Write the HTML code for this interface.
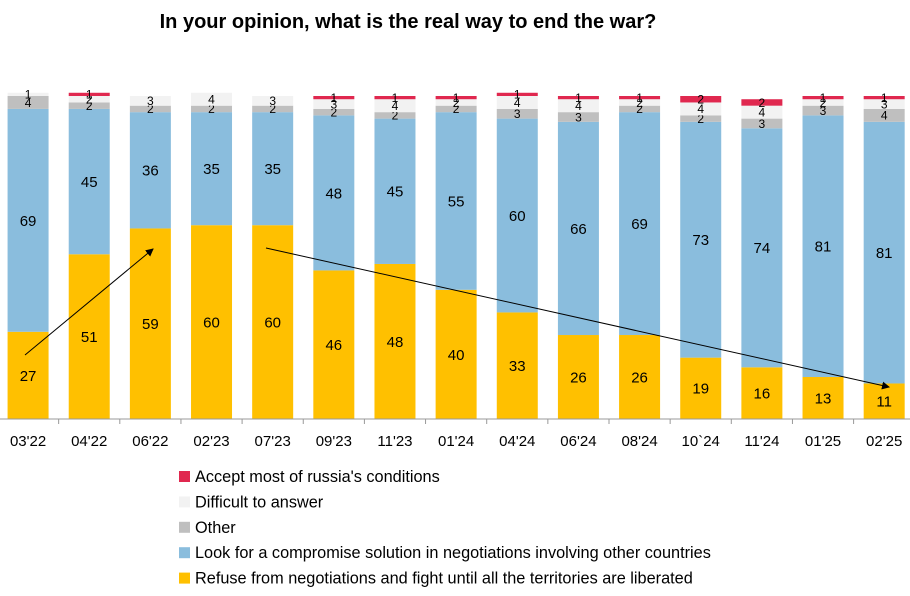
<!DOCTYPE html>
<html><head><meta charset="utf-8"><style>
body{margin:0;background:#fff;font-family:"Liberation Sans",sans-serif}
svg{display:block}
</style></head><body>
<svg id="chart" width="910" height="596">
<text x="408" y="28" text-anchor="middle" font-size="20" font-weight="bold" fill="#000">In your opinion, what is the real way to end the war?</text>
<g id="bars"></g>
<g id="axis"></g>
<g id="legend"></g>
<defs><marker id="ah" markerWidth="8" markerHeight="8" refX="7" refY="4" orient="auto"><path d="M0,0 L8,4 L0,8 z" fill="#000"/></marker></defs>
<g id="arrows"></g>
</svg>
<script>
const categories=["03'22","04'22","06'22","02'23","07'23","09'23","11'23","01'24","04'24","06'24","08'24","10`24","11'24","01'25","02'25"];
const refuse=[27,51,59,60,60,46,48,40,33,26,26,19,16,13,11];
const compromise=[69,45,36,35,35,48,45,55,60,66,69,73,74,81,81];
const other=[4,2,2,2,2,2,2,2,3,3,2,2,3,3,4];
const difficult=[1,2,3,4,3,3,4,2,4,4,2,4,4,2,3];
const accept=[0,1,0,0,0,1,1,1,1,1,1,2,2,1,1];
const seriesNames=["Accept most of russia's conditions","Difficult to answer","Other","Look for a compromise solution in negotiations involving other countries","Refuse from negotiations and fight until all the territories are liberated"];
const NS="http://www.w3.org/2000/svg";
const base=419, unit=3.23, band=61.15, x0=-2.5, bw=41;
const xc=i=>x0+band*i+band/2;
const yv=v=>base-v*unit;
function mk(t,a,p){const e=document.createElementNS(NS,t);for(const k in a)e.setAttribute(k,a[k]);p.appendChild(e);return e;}
const bars=document.getElementById('bars');
const stack=[[refuse,'#ffc000','refuse',15],[compromise,'#8abddd','compromise',15],[other,'#bfbfbf','other',12],[difficult,'#f2f2f2','difficult',12],[accept,'#e0284f','accept',12]];
categories.forEach((c,i)=>{
  let cum=0;
  stack.forEach(([arr,col,nm,fs])=>{
    const v=arr[i];
    if(v>0){
      const r=mk('rect',{x:xc(i)-bw/2,y:yv(cum+v),width:bw,height:v*unit,fill:col},bars);
      
      
      const t=mk('text',{x:xc(i),y:yv(cum+v/2)+fs*0.36,'text-anchor':'middle','font-size':fs,fill:'#000'},bars);
      t.textContent=v;
      
      
    }
    cum+=v;
  });
});
const ax=document.getElementById('axis');
const l=mk('line',{x1:0,x2:910,y1:base,y2:base,stroke:'#999'},ax);


categories.forEach((c,i)=>{
  const tk=mk('line',{x1:x0+band*(i+1),x2:x0+band*(i+1),y1:base,y2:base+5,stroke:'#999'},ax);
  
  
  const t=mk('text',{x:xc(i),y:446,'text-anchor':'middle','font-size':15,fill:'#000'},ax);
  t.textContent=c;
  
  
});
const lg=document.getElementById('legend');
const lcols=['#e0284f','#f2f2f2','#bfbfbf','#8abddd','#ffc000'];
seriesNames.forEach((n,k)=>{
  const y=477+k*25.4;
  const r=mk('rect',{x:179,y:y-6,width:11,height:11,fill:lcols[k]},lg);
  
  
  const t=mk('text',{x:195,y:y+5,'font-size':16.3,fill:'#000'},lg);
  t.textContent=n;
  
  
});
const ar=document.getElementById('arrows');
const a1=mk('line',{x1:25,y1:355,x2:153,y2:249,stroke:'#000','stroke-width':1,'marker-end':'url(#ah)'},ar);


const a2=mk('line',{x1:266,y1:248,x2:889,y2:387,stroke:'#000','stroke-width':1,'marker-end':'url(#ah)'},ar);


</script>
</body></html>
